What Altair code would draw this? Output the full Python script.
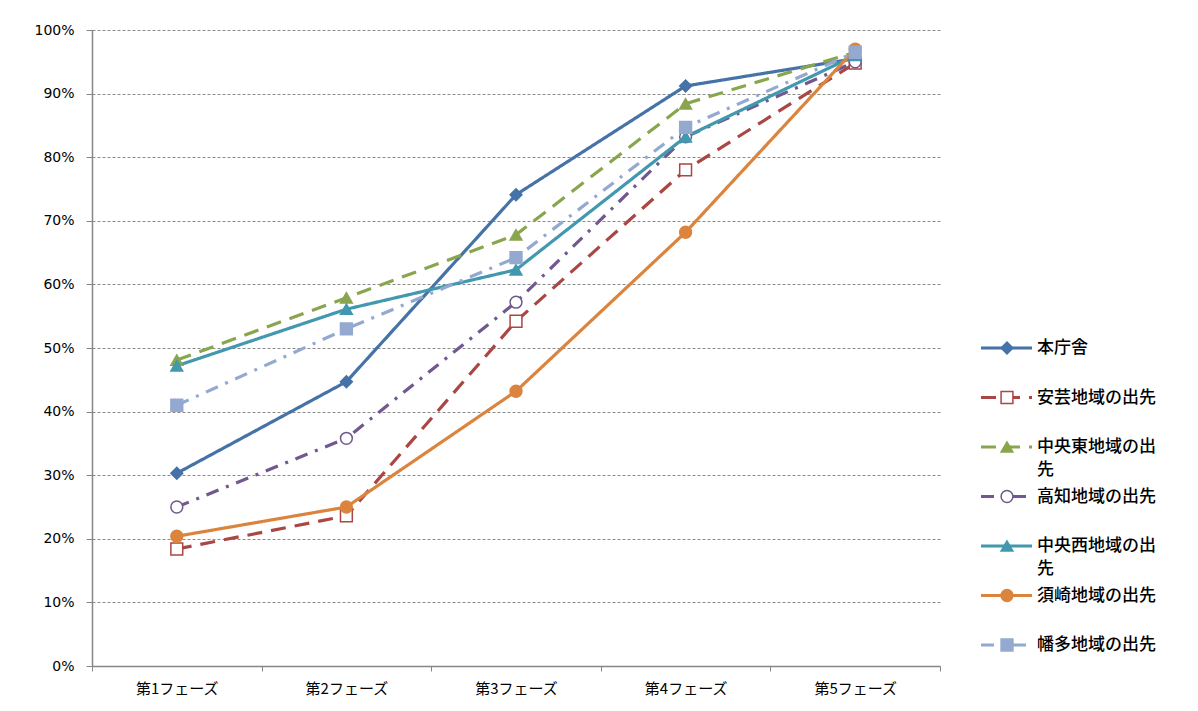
import altair as alt
import pandas as pd

phases = ["第1フェーズ", "第2フェーズ", "第3フェーズ", "第4フェーズ", "第5フェーズ"]
series = ["本庁舎", "安芸地域の出先", "中央東地域の出先", "高知地域の出先",
          "中央西地域の出先", "須崎地域の出先", "幡多地域の出先"]

v_honcho = [0.303, 0.447, 0.741, 0.912, 0.955]
v_aki = [0.184, 0.236, 0.542, 0.780, 0.948]
v_chuo_higashi = [0.481, 0.579, 0.678, 0.884, 0.965]
v_kochi = [0.250, 0.358, 0.572, 0.832, 0.950]
v_chuo_nishi = [0.472, 0.561, 0.623, 0.832, 0.960]
v_susaki = [0.204, 0.250, 0.432, 0.682, 0.970]
v_hata = [0.410, 0.530, 0.642, 0.847, 0.965]
values = [v_honcho, v_aki, v_chuo_higashi, v_kochi, v_chuo_nishi, v_susaki, v_hata]

colors = ["#4572A7", "#AA4643", "#89A54E", "#71588F", "#4198AF", "#DB843D", "#93A9CF"]
fills = ["#4572A7", "#FFFFFF", "#89A54E", "#FFFFFF", "#4198AF", "#DB843D", "#93A9CF"]
shapes = ["diamond", "square", "triangle-up", "circle", "triangle-up", "circle", "square"]
sizes = [140, 140, 160, 130, 160, 170, 180]
dashes = [[1, 0], [15, 9], [15, 9], [13, 8, 3, 8], [1, 0], [1, 0], [13, 8, 3, 8]]
legend_line1 = ["本庁舎", "安芸地域の出先", "中央東地域の出", "高知地域の出先",
                "中央西地域の出", "須崎地域の出先", "幡多地域の出先"]
legend_line2 = ["", "", "先", "", "先", "", ""]

rows = []
for s, vals in zip(series, values):
    for p, v in zip(phases, vals):
        rows.append({"series": s, "phase": p, "value": v})
df = pd.DataFrame(rows)

color_scale = alt.Scale(domain=series, range=colors)
fill_scale = alt.Scale(domain=series, range=fills)
shape_scale = alt.Scale(domain=series, range=shapes)
size_scale = alt.Scale(domain=series, range=sizes)
dash_scale = alt.Scale(domain=series, range=dashes)

x_enc = alt.X(
    "phase:N", sort=phases, bandPosition=0.5,
    scale=alt.Scale(type="band", paddingInner=0, paddingOuter=0),
    axis=alt.Axis(title=None, tickBand="extent", labelAngle=0, grid=False,
                  labelFont="Noto Sans CJK JP", labelFontSize=15, labelColor="#000000",
                  labelPadding=10, tickSize=5, tickColor="#868686",
                  domainColor="#868686", domainWidth=1.5),
)
y_enc = alt.Y(
    "value:Q", scale=alt.Scale(domain=[0, 1], nice=False),
    axis=alt.Axis(title=None, format=".0%", values=[i / 10 for i in range(11)],
                  labelFont="DejaVu Sans", labelFontSize=14, labelColor="#000000",
                  labelPadding=12, tickSize=6, tickColor="#868686",
                  domainColor="#868686", domainWidth=1.5,
                  grid=True, gridColor="#8a8a8a", gridDash=[3, 2], gridWidth=1),
)

lines = alt.Chart(df).mark_line(strokeWidth=3.2).encode(
    x=x_enc, y=y_enc,
    color=alt.Color("series:N", scale=color_scale, legend=None),
    strokeDash=alt.StrokeDash("series:N", scale=dash_scale, legend=None),
)
points = alt.Chart(df).mark_point(filled=False, strokeWidth=1.5, opacity=1).encode(
    x=x_enc, y=y_enc,
    stroke=alt.Stroke("series:N", scale=color_scale, legend=None),
    fill=alt.Fill("series:N", scale=fill_scale, legend=None),
    shape=alt.Shape("series:N", scale=shape_scale, legend=None),
    size=alt.Size("series:N", scale=size_scale, legend=None),
)
main = alt.layer(lines, points).properties(width=848, height=636)

leg = pd.DataFrame({
    "series": series, "l1": legend_line1, "l2": legend_line2,
    "x0": [0] * 7, "x1": [51] * 7, "xm": [26] * 7, "xt": [56] * 7,
})
ly = alt.Y("series:N", sort=series,
           scale=alt.Scale(type="point", range=[318, 615], padding=0), axis=None)
lx_scale = alt.Scale(domain=[0, 180])
leg_rule = alt.Chart(leg).mark_rule(strokeWidth=3.2).encode(
    x=alt.X("x0:Q", scale=lx_scale, axis=None), x2="x1:Q", y=ly,
    color=alt.Color("series:N", scale=color_scale, legend=None),
    strokeDash=alt.StrokeDash("series:N", scale=dash_scale, legend=None),
)
leg_pt = alt.Chart(leg).mark_point(filled=False, strokeWidth=1.5, opacity=1).encode(
    x=alt.X("xm:Q", scale=lx_scale, axis=None), y=ly,
    stroke=alt.Stroke("series:N", scale=color_scale, legend=None),
    fill=alt.Fill("series:N", scale=fill_scale, legend=None),
    shape=alt.Shape("series:N", scale=shape_scale, legend=None),
    size=alt.Size("series:N", scale=size_scale, legend=None),
)
leg_t1 = alt.Chart(leg).mark_text(align="left", baseline="middle", font="Noto Sans CJK JP",
                                  fontSize=17, fontWeight=500, color="#000000").encode(
    x=alt.X("xt:Q", scale=lx_scale, axis=None), y=ly, text="l1:N")
leg_t2 = alt.Chart(leg).mark_text(align="left", baseline="middle", font="Noto Sans CJK JP",
                                  fontSize=17, fontWeight=500, color="#000000", dy=23).encode(
    x=alt.X("xt:Q", scale=lx_scale, axis=None), y=ly, text="l2:N")
legend = alt.layer(leg_rule, leg_pt, leg_t1, leg_t2).properties(width=180, height=636)

chart = alt.hconcat(main, legend, spacing=38).properties(
    padding={"top": 15, "left": 25, "right": 5, "bottom": 0}
).configure(background="#ffffff").configure_view(stroke=None)

chart.save("out.html", embed_options={"renderer": "svg", "actions": False})
